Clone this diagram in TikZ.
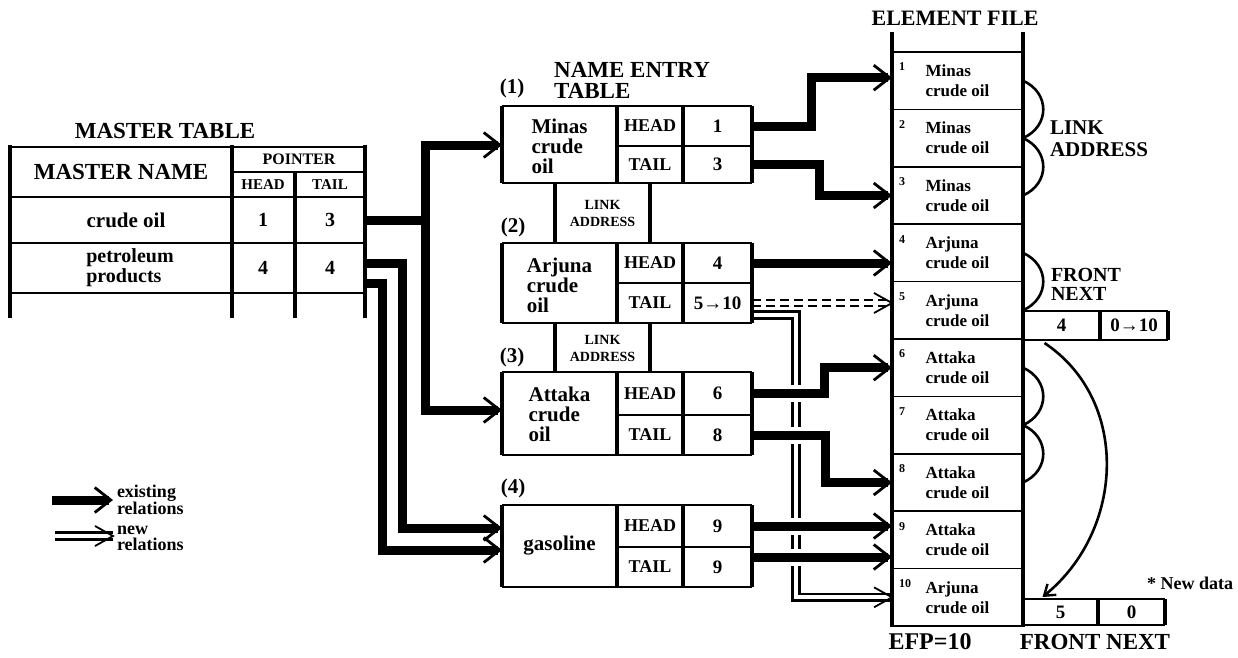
\documentclass[tikz,border=0pt]{standalone}
\usepackage{fontspec}
\setmainfont{Liberation Serif}
\usetikzlibrary{arrows.meta,calc}
\newcommand\myfs[2]{\fontsize{#1}{#2}\selectfont\bfseries}
\begin{document}
\begin{tikzpicture}[x=1pt,y=-1pt,
  vl/.style={line width=3.5pt},
  hl/.style={line width=1.6pt},
  thk/.style={line width=9pt, line join=miter, -{Straight Barb[line width=2.8pt,length=16pt,width=25pt]}},
  xing/.style={preaction={draw=white,line width=17pt,-,shorten <=12pt,shorten >=14pt}},
  newrel/.style={double,double distance=4pt,line width=2.8pt,line join=miter},
  oldrel/.style={double,double distance=4.5pt,line width=1.8pt,dash pattern=on 9pt off 5pt},
  cellbox/.style={inner sep=0pt,outer sep=0pt,minimum width=#1,minimum height=16pt},
  lbl/.style={inner sep=0pt,outer sep=0pt},
  brace/.style={line width=2.6pt},
  pics/ohead/.style={code={\draw[line width=1.8pt,line join=miter] (-18,-10) -- (0,0) -- (-18,10);}},
]
\useasboundingbox (0,0) rectangle (1238,657);

% ---------------- MASTER TABLE ----------------
\node[lbl,font=\myfs{23}{23}] (mtT) at (165,131) {MASTER TABLE};
\node[lbl,font=\myfs{23}{23}] (mtN) at (121,172) {MASTER NAME};
\node[lbl,font=\myfs{16}{16}] (mtP) at (299,159) {POINTER};
\node[lbl,font=\myfs{15}{15}] (mtH) at (263,185) {HEAD};
\node[lbl,font=\myfs{15}{15}] (mtL) at (330,185) {TAIL};
\node[lbl,font=\myfs{21}{21}] (r1) at (126,220) {crude oil};
\node[lbl,font=\myfs{20}{20}] (h1) at (263,220) {1};
\node[cellbox=70pt,font=\myfs{20}{20}] (t1) at (330,220) {3};
\node[lbl,align=left,font=\myfs{20}{20}] (r2) at (130,268) {petroleum\\products};
\node[lbl,font=\myfs{20}{20}] (h2) at (263,268) {4};
\node[cellbox=70pt,font=\myfs{20}{20}] (t2) at (330,268) {4};

% ---------------- NAME ENTRY TABLE ----------------
\node[lbl,align=left,font=\myfs{23}{21}] (neT) at (632,80) {NAME ENTRY\\TABLE};
\node[lbl,font=\myfs{21}{21}] (p1) at (512,88) {(1)};
\node[lbl,font=\myfs{21}{21}] (p2) at (513,227) {(2)};
\node[lbl,font=\myfs{21}{21}] (p3) at (512,357) {(3)};
\node[lbl,font=\myfs{21}{21}] (p4) at (513,488) {(4)};

\node[cellbox=115pt,align=left,font=\myfs{21}{20}] (n1) at (559.5,146) {Minas\\crude\\oil};
\node[cellbox=115pt,align=left,font=\myfs{21}{20}] (n2) at (559.5,285) {Arjuna\\crude\\oil};
\node[cellbox=115pt,align=left,font=\myfs{21}{20}] (n3) at (559.5,414) {Attaka\\crude\\oil};
\node[cellbox=115pt,font=\myfs{21}{20}] (n4) at (559.5,546) {gasoline};

\foreach \k/\a/\b in {1/126/164.5,2/263/303,3/393.5/435,4/526/567}{
  \node[lbl,font=\myfs{18}{18}] (hd\k) at (650,\a) {HEAD};
  \node[lbl,font=\myfs{18}{18}] (tl\k) at (650,\b) {TAIL};
}
\node[cellbox=69pt,font=\myfs{19}{19}] (vh1) at (717.5,126) {1};
\node[cellbox=69pt,font=\myfs{19}{19}] (vt1) at (717.5,164.5) {3};
\node[cellbox=69pt,font=\myfs{19}{19}] (vh2) at (717.5,263) {4};
\node[cellbox=69pt,font=\myfs{19}{19}] (vt2) at (717.5,303) {5→10};
\node[cellbox=69pt,font=\myfs{19}{19}] (vh3) at (717.5,393.5) {6};
\node[cellbox=69pt,font=\myfs{19}{19}] (vt3) at (717.5,435) {8};
\node[cellbox=69pt,font=\myfs{19}{19}] (vh4) at (717.5,526) {9};
\node[cellbox=69pt,font=\myfs{19}{19}] (vt4) at (717.5,567) {9};

\node[lbl,align=center,font=\myfs{14}{17}] (la1) at (602.5,213) {LINK\\ADDRESS};
\node[lbl,align=center,font=\myfs{14}{17}] (la2) at (602.5,348) {LINK\\ADDRESS};

% ---------------- ELEMENT FILE ----------------
\node[lbl,font=\myfs{22}{22}] (efT) at (955,18) {ELEMENT FILE};
\foreach \i/\nm in {1/Minas,2/Minas,3/Minas,4/Arjuna,5/Arjuna,6/Attaka,7/Attaka,8/Attaka,9/Attaka,10/Arjuna}{
  \node[cellbox=131pt,minimum height=57.4pt,align=left,font=\myfs{17}{20}] (e\i) at (957.5,{52+(\i-0.5)*57.4}) {\nm\\crude oil};
  \node[lbl,font=\myfs{12}{12}] (en\i) at ({\i<10 ? 902 : 905},{52+(\i-1)*57.4+15}) {\i};
}
\node[lbl,align=left,anchor=west,font=\myfs{21}{22}] (laR) at (1050,139) {LINK\\ADDRESS};
\node[lbl,align=left,anchor=west,font=\myfs{20}{19}] (fnR) at (1051,284) {FRONT\\NEXT};
\node[cellbox=77pt,minimum height=29pt,font=\myfs{19}{19}] (fnA) at (1061.5,325.5) {4};
\node[cellbox=68pt,minimum height=29pt,font=\myfs{19}{19}] (fnB) at (1134,325.5) {0→10};
\node[cellbox=75pt,minimum height=26pt,font=\myfs{19}{19}] (nd5) at (1060.5,612) {5};
\node[cellbox=67pt,minimum height=26pt,font=\myfs{19}{19}] (nd0) at (1131.5,612) {0};
\node[lbl,font=\myfs{18}{18}] (newd) at (1190,583) {* New data};
\node[lbl,font=\myfs{24}{24}] (efp) at (930,642) {EFP=10};
\node[lbl,font=\myfs{23}{23}] (fnx) at (1095,642) {FRONT NEXT};

% ---------------- LEGEND ----------------
\coordinate (lg1) at (52,500);
\coordinate (lg2) at (113,500);
\coordinate (lg3) at (55,536);
\coordinate (lg4) at (113,536);
\node[lbl,align=left,anchor=west,font=\myfs{18}{16}] (lgt1) at (117,500) {existing\\relations};
\node[lbl,align=left,anchor=west,font=\myfs{18}{16}] (lgt2) at (117,538) {new\\relations};

% ---------------- CONNECTORS ----------------
\path ($(vt2.east)+(0,12)$) coordinate (c2n);
\path ($(vt4.east)+(0,-10)$) coordinate (c4t);
\path ($(fnA.south)+(-17,3)$) coordinate (cvA);
\path ($(nd5.north)+(-18,-2)$) coordinate (cvB);

% new relation (double line) and old relation (dashed double)
\draw[newrel] (c2n) -- ++(44,0) |- (e10.west);
\pic at (e10.west) {ohead};
\draw[oldrel] (vt2.east) -- (vt2.east -| e5.west);
\pic at (vt2.east -| e5.west) {ohead};

% master table -> name entry
\draw[thk] (t1.east) -- ++(60,0) |- ($(n1.west)+(0,-1)$);
\draw[thk] (t1.east) -- ++(60,0) |- ($(n3.west)+(0,-4)$);
\draw[thk] ($(t2.east)+(0,-5)$) -- ++(37,0) |- ($(n4.west)+(0,-18)$);
\draw[thk] ($(t2.east)+(0,15)$) -- ++(17,0) |- ($(n4.west)+(0,4)$);

% name entry -> element file
\draw[thk] (vh1.east) -- ++(59,0) |- ($(e1.west)+(0,-3)$);
\draw[thk] (vt1.east) -- ++(67,0) |- (e3.west);
\draw[thk] (vh2.east) -- (vh2.east -| e4.west);
\draw[thk,xing] (vh3.east) -- ++(72,0) |- (e6.west);
\draw[thk,xing] (vt3.east) -- ++(73,0) |- (e8.west);
\draw[thk,xing] (vh4.east) -- (vh4.east -| e9.west);
\draw[thk,xing] (c4t) -- (c4t -| e9.west);

% legend arrows
\draw[thk] (lg1) -- (lg2);
\draw[newrel] (lg3) -- (lg4);
\pic at (lg4) {ohead};

% ---------------- BORDERS ----------------
% master table
\draw[vl] (10,145) -- (10,318);
\draw[vl] (232,145) -- (232,318);
\draw[vl] (295,172) -- (295,318);
\draw[vl] (365,145) -- (365,318);
\draw[hl] (10,147) -- (365,147);
\draw[hl] (232,172) -- (365,172);
\foreach \y in {197,243,293} \draw[hl] (10,\y) -- (365,\y);

% name entry boxes
\foreach \t/\m/\b in {106/146/183,243/283/323,372/415/455,505/547/587}{
  \draw[vl] (502,\t) -- (502,\b);
  \draw[vl] (617,\t) -- (617,\b);
  \draw[vl] (683,\t) -- (683,\b);
  \draw[vl] (752,\t) -- (752,\b);
  \draw[hl] (502,\t) -- (752,\t);
  \draw[hl] (502,\b) -- (752,\b);
  \draw[hl] (617,\m) -- (752,\m);
}
\foreach \t/\b in {183/243,323/372}{
  \draw[vl] (555,\t) -- (555,\b);
  \draw[vl] (650,\t) -- (650,\b);
}

% element file
\draw[vl] (892,32) -- (892,627);
\draw[vl] (1023,32) -- (1023,627);
\foreach \i in {0,...,10} \draw[hl] (892,{52+\i*57.4}) -- (1023,{52+\i*57.4});

% braces
\draw[brace] (e1.east) .. controls +(27,12) and +(27,-12) .. (e2.east);
\draw[brace] (e2.east) .. controls +(27,12) and +(27,-12) .. (e3.east);
\draw[brace] (e4.east) .. controls +(27,12) and +(27,-12) .. (e5.east);
\draw[brace] (e6.east) .. controls +(27,12) and +(27,-12) .. (e7.east);
\draw[brace] (e7.east) .. controls +(27,12) and +(27,-12) .. (e8.east);

% front/next boxes
\draw[hl] (1023,311) -- (1168,311);
\draw[hl] (1023,340) -- (1168,340);
\draw[vl] (1100,311) -- (1100,340);
\draw[vl] (1168,311) -- (1168,340);
\draw[hl] (1023,599) -- (1165,599);
\draw[hl] (1023,625) -- (1165,625);
\draw[vl] (1098,599) -- (1098,625);
\draw[vl] (1165,599) -- (1165,625);

% big curved arrow
\draw[line width=2.6pt,-{Straight Barb[line width=2.4pt,length=10pt,width=14pt]}] (cvA) .. controls (1130,400) and (1125,530) .. (cvB);

\end{tikzpicture}
\end{document}
